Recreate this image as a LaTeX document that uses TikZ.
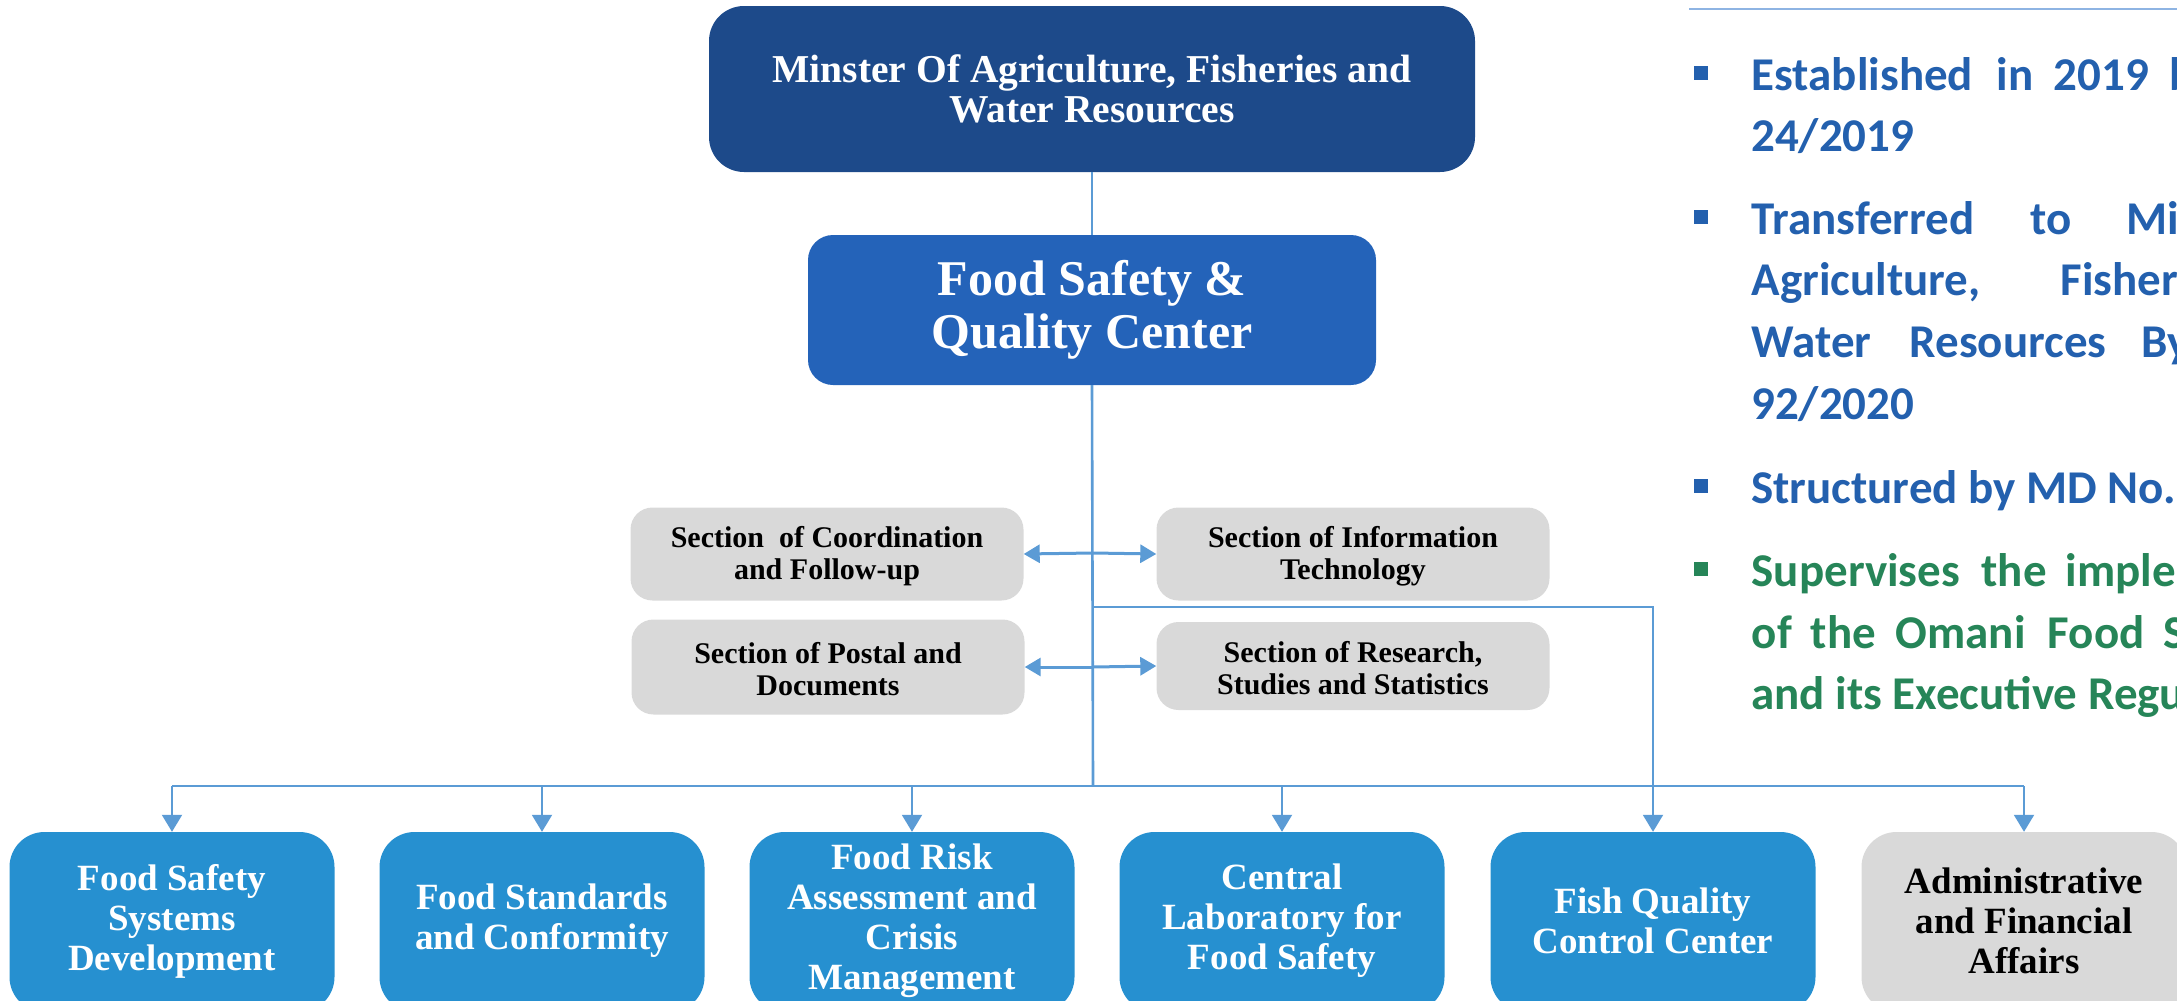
\documentclass[tikz,border=0pt]{standalone}
\usepackage{fontspec}
\setmainfont{Liberation Serif}
\newfontfamily\calib{Carlito}
\usetikzlibrary{arrows.meta}
\definecolor{mindark}{RGB}{29,74,138}
\definecolor{fsqcblue}{RGB}{36,99,185}
\definecolor{deptblue}{RGB}{38,144,208}
\definecolor{secgray}{RGB}{217,217,217}
\definecolor{linkblue}{RGB}{91,155,213}
\definecolor{txtblue}{RGB}{35,96,174}
\definecolor{txtgreen}{RGB}{38,133,88}
\definecolor{rulecol}{RGB}{142,180,227}
\newcommand\putw[2]{\makebox[0pt][l]{\hspace*{#1pt}#2}}
\begin{document}
\begin{tikzpicture}[x=1pt,y=-1pt,
  boxbase/.style={inner sep=0pt, align=center},
  minbox/.style={boxbase, rounded corners=35pt, fill=mindark, text=white, minimum width=766pt, minimum height=166pt, font=\bfseries\fontsize{39.5}{40}\selectfont},
  fsqcbox/.style={boxbase, rounded corners=25pt, fill=fsqcblue, text=white, minimum width=568pt, minimum height=150pt, font=\bfseries\fontsize{50}{53}\selectfont},
  secbox/.style={boxbase, rounded corners=22pt, fill=secgray, minimum width=393pt, minimum height=93pt},
  sectext/.style={boxbase, text=black, font=\bfseries\fontsize{30}{32}\selectfont},
  deptbox/.style={boxbase, rounded corners=35pt, fill=deptblue, minimum width=325pt, minimum height=180pt},
  grayDept/.style={boxbase, rounded corners=35pt, fill=secgray, minimum width=325pt, minimum height=180pt},
  depttext/.style={boxbase, text=white, font=\bfseries\fontsize{37}{40}\selectfont},
  link/.style={draw=linkblue, line width=2.6pt},
  linkarrow/.style={link, -{Triangle[length=17pt,width=20pt]}},
  rtext/.style={inner sep=0pt, anchor=base west, font=\calib\bfseries\fontsize{47}{47}\selectfont},
  bullet/.style={inner sep=0pt, minimum width=14pt, minimum height=14pt},
]
\useasboundingbox (0,0) rectangle (2177,1001);
\clip (0,0) rectangle (2177,1001);

% top boxes
\node[minbox] (min) at (1092,89) {Minster Of Agriculture, Fisheries and\\Water Resources};
\node[fsqcbox] (fsqc) at (1092,310) {Food Safety \&\\Quality Center};

% sections
\node[secbox] (coord) at (827,554) {};
\node[secbox] (itsec) at (1353,554) {};
\node[secbox, minimum height=95pt] (postal) at (828,667) {};
\node[secbox, minimum height=88pt] (research) at (1353,666) {};
\node[sectext] (coordt) at (827,556) {Section\ \ of Coordination\\and Follow-up};
\node[sectext] (itsect) at (1353,556) {Section of Information\\Technology};
\node[sectext] (postalt) at (828,669) {Section of Postal and\\Documents};
\node[sectext] (researcht) at (1353,668) {Section of Research,\\Studies and Statistics};

% departments
\node[deptbox] (d1) at (172,922) {};
\node[deptbox] (d2) at (542,922) {};
\node[deptbox] (d3) at (912,922) {};
\node[deptbox] (d4) at (1282,922) {};
\node[deptbox] (d5) at (1653,922) {};
\node[grayDept] (d6) at (2024,922) {};
\node[depttext] (t1) at (172,921) {Food Safety\\Systems\\Development};
\node[depttext] (t2) at (542,921) {Food Standards\\and Conformity};
\node[depttext] (t3) at (912,921) {Food Risk\\Assessment and\\Crisis\\Management};
\node[depttext] (t4) at (1282,921) {Central\\Laboratory for\\Food Safety};
\node[depttext] (t5) at (1653,921) {Fish Quality\\Control Center};
\node[depttext, text=black] (t6) at (2024,921) {Administrative\\and Financial\\Affairs};

% connectors
\coordinate (jsec1) at (1093,553);
\coordinate (jsec2) at (1093,667);
\coordinate (jfish) at (1093,607);
\coordinate (jbus) at (1093,786);
\coordinate (busL) at (172,786);
\coordinate (busR) at (2024,786);

\draw[link, line width=2pt] (min.south) -- (fsqc.north);
\draw[link] (fsqc.south) -- (jbus);
\draw[link, line width=3pt, -{Triangle[length=16pt,width=18pt]}] (jsec1) -- (coord.east);
\draw[link, line width=3pt, -{Triangle[length=16pt,width=18pt]}] (jsec1) -- (itsec.west);
\draw[link, line width=3pt, -{Triangle[length=16pt,width=18pt]}] (jsec2) -- (postal.east);
\draw[link, line width=3pt, -{Triangle[length=16pt,width=18pt]}] (jsec2) -- (research.west);
\draw[link] (busL) -- (busR);
\draw[linkarrow, line width=2pt] (busL) -- (d1.north);
\draw[linkarrow, line width=2pt] (d2.north |- busL) -- (d2.north);
\draw[linkarrow, line width=2pt] (d3.north |- busL) -- (d3.north);
\draw[linkarrow, line width=2pt] (d4.north |- busL) -- (d4.north);
\draw[linkarrow, line width=2pt] (busR) -- (d6.north);
\draw[linkarrow, line width=2pt] (jfish) -| (d5.north);

% right-hand text
\coordinate (ruleL) at (1689,9);
\coordinate (ruleR) at (2177,9);
\draw[rulecol, line width=2.5pt] (ruleL) -- (ruleR);

\node[bullet, fill=txtblue] (bu1) at (1701,73) {};
\node[rtext, text=txtblue] (p1a) at (1751,90) {\putw{0}{Established}\putw{245}{in}\putw{302}{2019}\putw{418}{by}};
\node[rtext, text=txtblue] (p1b) at (1751,151) {24/2019};

\node[bullet, fill=txtblue] (bu2) at (1701,217) {};
\node[rtext, text=txtblue] (p2a) at (1751,234) {\putw{0}{Transferred}\putw{279}{to}\putw{375}{Ministry}};
\node[rtext, text=txtblue] (p2b) at (1751,295) {\putw{0}{Agriculture,}\putw{309}{Fisheries}};
\node[rtext, text=txtblue] (p2c) at (1751,357) {\putw{0}{Water}\putw{158}{Resources}\putw{390}{By}};
\node[rtext, text=txtblue] (p2d) at (1751,419) {92/2020};

\node[bullet, fill=txtblue] (bu3) at (1701,486) {};
\node[rtext, text=txtblue] (p3a) at (1751,503) {Structured by MD No.};

\node[bullet, fill=txtgreen] (bu4) at (1701,569) {};
\node[rtext, text=txtgreen] (p4a) at (1751,586) {\putw{0}{Supervises}\putw{230}{the}\putw{314}{implementation}};
\node[rtext, text=txtgreen] (p4b) at (1751,648) {\putw{0}{of}\putw{59}{the}\putw{144}{Omani}\putw{296}{Food}\putw{412}{Safety}};
\node[rtext, text=txtgreen] (p4c) at (1751,709) {and its Executive Regulations};
\end{tikzpicture}
\end{document}
